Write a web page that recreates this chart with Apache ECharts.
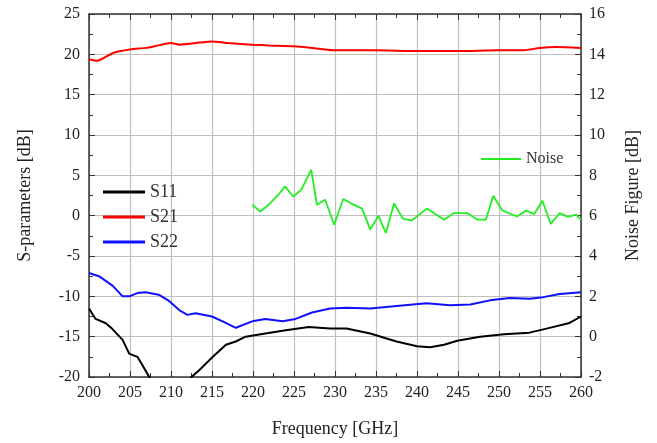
<!DOCTYPE html>
<html><head><meta charset="utf-8">
<script src="https://cdn.jsdelivr.net/npm/echarts@6/dist/echarts.min.js"></script>
<style>html,body{margin:0;padding:0;background:#fff}#c{width:657px;height:443px}</style>
</head><body><div id="c"></div>
<script>
const freqS11 = [200,200.8,202,202.8,204.1,204.9,205.9,206.5,207.4,208.3,211.8,212.5,213.5,215.1,216.7,217.9,219.1,221.5,224,226.8,229.4,231.4,234.3,237.5,240,241.6,243.3,244.9,247.7,250.6,253.7,255.8,258.6,260];
const s11 = [-11.5,-12.8,-13.3,-14.0,-15.4,-17.1,-17.5,-18.5,-20.1,-21.8,-21.5,-20,-19.1,-17.5,-16.0,-15.6,-15.0,-14.6,-14.2,-13.8,-14.0,-14.0,-14.6,-15.6,-16.2,-16.3,-16.0,-15.5,-15.0,-14.7,-14.5,-14.0,-13.3,-12.5];
const freqS21 = [200,201,203,205,207,208,210,211,213,215,217,220,222,225,228,230,235,240,245,250,253,255,257,260];
const s21 = [19.4,19.2,20.2,20.6,20.8,21.0,21.4,21.2,21.4,21.6,21.4,21.2,21.1,21.0,20.7,20.5,20.5,20.4,20.4,20.5,20.5,20.8,20.9,20.8];
const freqS22 = [200,201.3,202.9,204.1,204.9,205.9,206.9,208.5,209.8,211,212,213,215,216.3,217.9,219.9,221.5,223.6,225.2,227.2,229.4,231.4,234.3,237.5,241.2,244,246.5,248.9,251.3,253.7,255.4,257.4,260];
const s22 = [-7.1,-7.55,-8.7,-10.0,-10.0,-9.6,-9.5,-9.8,-10.6,-11.7,-12.3,-12.1,-12.5,-13.1,-13.9,-13.1,-12.8,-13.1,-12.8,-12.0,-11.5,-11.4,-11.5,-11.2,-10.85,-11.1,-11.0,-10.5,-10.2,-10.3,-10.1,-9.7,-9.5];
const freqNoise = [219.9,220.9,221.9,223.1,223.9,224.9,225.9,227.1,227.8,228.8,229.9,231,232,233.3,234.3,235.3,236.2,237.2,238.3,239.4,241.2,243.3,244.5,246.1,247.4,248.4,249.3,250.4,252.2,253.3,254.3,255.3,256.3,257.4,258.4,259.4,260];
const noise = [6.54,6.21,6.54,7.04,7.45,6.95,7.29,8.28,6.54,6.79,5.55,6.83,6.6,6.35,5.31,6.0,5.14,6.6,5.84,5.77,6.35,5.8,6.13,6.13,5.8,5.8,6.99,6.26,5.96,6.25,6.08,6.74,5.59,6.13,5.94,6.05,5.8];

const pair = (xs, ys) => xs.map((x, i) => [x, ys[i]]);
const FONT = 'Liberation Serif';
const chart = echarts.init(document.getElementById('c'));
const axisLine = {show: true, onZero: false, lineStyle: {color: '#333', width: 1.5}};
chart.setOption({
  animation: false,
  grid: {left: 89, right: 76, top: 14, bottom: 66, show: false},
  legend: [
    {orient: 'vertical', left: 98, top: 178, itemGap: 7, itemWidth: 42, itemHeight: 3, icon: 'rect',
     textStyle: {fontFamily: FONT, fontSize: 18, color: '#333'},
     data: [{name: 'S11', itemStyle: {color: '#000'}}, {name: 'S21', itemStyle: {color: '#ff0000'}}, {name: 'S22', itemStyle: {color: '#1010ff'}}]},
    {orient: 'vertical', left: 476, top: 146, itemWidth: 40, itemHeight: 2, icon: 'rect',
     textStyle: {fontFamily: FONT, fontSize: 16, color: '#333'},
     data: [{name: 'Noise', itemStyle: {color: '#22ee22'}}]}
  ],
  xAxis: [
    {type: 'value', min: 200, max: 260, interval: 5, position: 'bottom',
     name: 'Frequency [GHz]', nameLocation: 'middle', nameGap: 43,
     nameTextStyle: {fontFamily: FONT, fontSize: 18, color: '#222'},
     axisLine, axisTick: {inside: true, length: 6, lineStyle: {color: '#333'}},
     minorTick: {show: true, splitNumber: 2, length: 4, lineStyle: {color: '#333'}},
     axisLabel: {fontFamily: FONT, fontSize: 16, color: '#222', margin: 8},
     splitLine: {show: true, lineStyle: {color: '#c0c0c0', width: 1.2}}},
    {type: 'value', min: 200, max: 260, interval: 5, position: 'top',
     axisLine, axisTick: {inside: true, length: 6, lineStyle: {color: '#333'}},
     minorTick: {show: true, splitNumber: 2, length: 4, lineStyle: {color: '#333'}},
     axisLabel: {show: false}, splitLine: {show: false}}
  ],
  yAxis: [
    {type: 'value', min: -20, max: 25, interval: 5, position: 'left',
     name: 'S-parameters [dB]', nameLocation: 'middle', nameGap: 55,
     nameTextStyle: {fontFamily: FONT, fontSize: 18, color: '#222'},
     axisLine, axisTick: {inside: true, length: 6, lineStyle: {color: '#333'}},
     minorTick: {show: true, splitNumber: 2, length: 4, lineStyle: {color: '#333'}},
     axisLabel: {fontFamily: FONT, fontSize: 16, color: '#222', margin: 9},
     splitLine: {show: true, lineStyle: {color: '#c0c0c0', width: 1.2}}},
    {type: 'value', min: -2, max: 16, interval: 2, position: 'right',
     name: 'Noise Figure [dB]', nameLocation: 'middle', nameGap: 43,
     nameTextStyle: {fontFamily: FONT, fontSize: 18, color: '#222'},
     axisLine, axisTick: {inside: true, length: 6, lineStyle: {color: '#333'}},
     minorTick: {show: true, splitNumber: 2, length: 4, lineStyle: {color: '#333'}},
     axisLabel: {fontFamily: FONT, fontSize: 16, color: '#222', margin: 8},
     splitLine: {show: false}}
  ],
  series: [
    {name: 'S11', type: 'line', xAxisIndex: 0, yAxisIndex: 0, data: pair(freqS11, s11), showSymbol: false, clip: true,
     lineStyle: {color: '#000', width: 2}, itemStyle: {color: '#000'}},
    {name: 'S21', type: 'line', data: pair(freqS21, s21), showSymbol: false, smooth: 0.2,
     lineStyle: {color: '#ff0000', width: 2}, itemStyle: {color: '#ff0000'}},
    {name: 'S22', type: 'line', data: pair(freqS22, s22), showSymbol: false,
     lineStyle: {color: '#1010ff', width: 2}, itemStyle: {color: '#1010ff'}},
    {name: 'Noise', type: 'line', yAxisIndex: 1, data: pair(freqNoise, noise), showSymbol: false,
     lineStyle: {color: '#22ee22', width: 1.8}, itemStyle: {color: '#22ee22'}}
  ]
});
</script></body></html>
